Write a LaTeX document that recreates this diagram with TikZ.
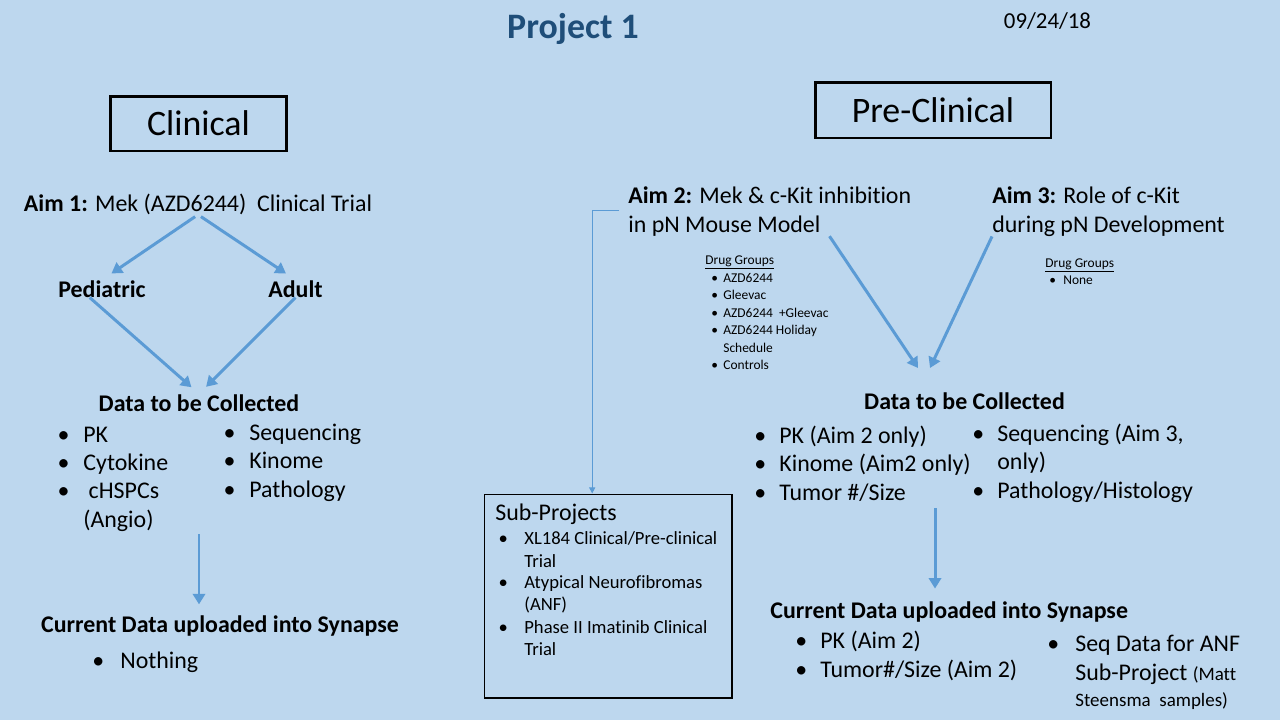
\documentclass[tikz,border=0pt]{standalone}
\usepackage{fontspec}
\setmainfont[Ligatures={NoCommon,NoContextual}]{Carlito}
\usetikzlibrary{arrows.meta}
\definecolor{slidebg}{RGB}{189,215,238}
\definecolor{arrblue}{RGB}{91,155,213}
\definecolor{ttlblue}{RGB}{31,78,121}
\begin{document}
\begin{tikzpicture}[x=0.02cm, y=-0.02cm, font=\fontsize{13.6}{16}\selectfont,
          hd/.style={anchor=base, inner sep=0pt, font=\fontsize{13.6}{16}\selectfont\bfseries},
          txt/.style={anchor=base west, inner sep=0pt},
          itm/.style={anchor=base west, inner sep=0pt, execute at begin node={\llap{\makebox[#1][l]{\textbullet}}}},
          itm/.default=14.7pt,
          small/.style={font=\fontsize{7.65}{9}\selectfont},
          subtxt/.style={font=\fontsize{10.6}{12.5}\selectfont},
          clbox/.style={draw, line width=1.7pt, inner sep=0pt, font=\fontsize{20.4}{24}\selectfont},
          blkarr/.style={draw=arrblue, line width=1.7pt, -{Triangle[length=6pt, width=7pt]}},
          thinarr/.style={draw=arrblue, line width=0.6pt, -{Triangle[length=3.5pt, width=3.5pt]}}]
        \fill[slidebg] (0,0) rectangle (1280,720);
        % header
        \node[anchor=base, inner sep=0pt, font=\fontsize{20.4}{24}\selectfont\bfseries, text=ttlblue] (title) at (573,38) {Project 1};
        \node[anchor=base, inner sep=0pt, font=\fontsize{13}{15}\selectfont] (date) at (1047.5,29) {09/24/18};
        \node[clbox, minimum width=3.54cm, minimum height=1.1cm] (clin) at (198.5,123.5) {Clinical};
        \node[clbox, minimum width=4.72cm, minimum height=1.12cm] (preclin) at (933,110) {Pre-Clinical};
        % clinical side
        \node[anchor=base, inner sep=0pt] (aim1) at (198,211) {\textbf{Aim 1:} Mek (AZD6244)\ \ Clinical Trial};
        \node[hd] (ped) at (102,297) {Pediatric};
        \node[hd] (adult) at (295.5,297) {Adult};
        \node[hd] (dcl) at (199,411) {Data to be Collected};
        \node[itm] (pk) at (83,442) {PK};
        \node[itm] (cyto) at (83,470) {Cytokine};
        \node[itm] (chsp) at (83,498) {\ cHSPCs};
        \node[txt] (angio) at (83,527) {(Angio)};
        \node[itm] (seq) at (249,440) {Sequencing};
        \node[itm] (kin) at (249,468) {Kinome};
        \node[itm] (path) at (249,497) {Pathology};
        \node[hd] (cdl) at (220,632) {Current Data uploaded into Synapse};
        \node[itm=15.9pt] (noth) at (120,668) {Nothing};
        \draw[blkarr, shorten <=2pt, shorten >=6.5pt] (aim1.south) -- (ped.north);
        \draw[blkarr, shorten <=2pt, shorten >=6.5pt] (aim1.south) -- (adult.north);
        \draw[blkarr, shorten >=5.7pt] ([xshift=-7pt]ped.south) -- (dcl.north);
        \draw[blkarr, shorten >=5.7pt] (adult.south) -- (dcl.north);
        \draw[blkarr, shorten <=1.5pt, shorten >=6pt] (angio.south -| dcl) -- (cdl.north -| dcl);
        % pre-clinical side
        \node[txt] (aim2a) at (628,203) {\textbf{Aim 2:} Mek \& c-Kit inhibition};
        \node[txt] (aim2b) at (628,232) {in pN Mouse Model};
        \node[txt] (aim3a) at (992,203) {\textbf{Aim 3:} Role of c-Kit};
        \node[txt] (aim3b) at (992,232) {during pN Development};
        \node[txt, small] (dg2) at (705,264) {\underline{Drug Groups}};
        \node[itm=6.8pt, small] (az) at (723,282) {AZD6244};
        \node[itm=6.8pt, small] (glee) at (723,299.5) {Gleevac};
        \node[itm=6.8pt, small] (azgl) at (723,317) {AZD6244\ \ +Gleevac};
        \node[itm=6.8pt, small] (azho) at (723,334.5) {AZD6244 Holiday};
        \node[txt, small] (sched) at (723,352) {Schedule};
        \node[itm=6.8pt, small] (ctrl) at (723,369.5) {Controls};
        \node[txt, small] (dg3) at (1045,267) {\underline{Drug Groups}};
        \node[itm=7.9pt, small] (none) at (1063,284) {None};
        \coordinate (mt2) at (918,368);
        \coordinate (mt3) at (930,368);
        \draw[blkarr] ([xshift=5pt]aim2b.south east) -- (mt2);
        \draw[blkarr] (aim3b.south west) -- (mt3);
        \node[hd] (dcr) at (964.5,409) {Data to be Collected};
        \node[itm=14.2pt] (pkr) at (779,443) {PK (Aim 2 only)};
        \node[itm=14.2pt] (kinr) at (779,471) {Kinome (Aim2 only)};
        \node[itm=14.2pt] (tum) at (779,500) {Tumor \#/Size};
        \node[itm=14.2pt] (seqr) at (997,441) {Sequencing (Aim 3,};
        \node[txt] (only) at (997,469) {only)};
        \node[itm=14.2pt] (histo) at (997,498) {Pathology/Histology};
        \node[hd, anchor=base west] (cdr) at (770,618) {Current Data uploaded into Synapse};
        \node[itm=14.2pt] (pkup) at (820,648) {PK (Aim 2)};
        \node[itm=14.2pt] (tumup) at (820,677) {Tumor\#/Size (Aim 2)};
        \node[itm=15.9pt] (seqd) at (1075,651) {Seq Data for ANF};
        \node[txt] (subp) at (1075,680) {Sub-Project {\fontsize{10.8}{13}\selectfont (Matt}};
        \node[txt, font=\fontsize{10.8}{13}\selectfont] (steen) at (1075,706) {Steensma\ \ samples)};
        \coordinate (dn2) at (935,508);
        \draw[blkarr, shorten >=7pt] (dn2) -- (dn2 |- cdr.north);
        % sub-projects
        \node[draw, line width=0.6pt, minimum width=4.96cm, minimum height=4.08cm] (subbox) at (608,596) {};
        \node[txt] (sptitle) at (495,520) {Sub-Projects};
        \node[itm, subtxt] (xl) at (524,544) {XL184 Clinical/Pre-clinical};
        \node[txt, subtxt] (xltrial) at (524,567) {Trial};
        \node[itm, subtxt] (atyp) at (524,588) {Atypical Neurofibromas};
        \node[txt, subtxt] (anf) at (524,610) {(ANF)};
        \node[itm, subtxt] (phase) at (524,633) {Phase II Imatinib Clinical};
        \node[txt, subtxt] (phtrial) at (524,655) {Trial};
        \draw[thinarr] ([shift={(-9,7)}]aim2a.south west) -| ([xshift=-9pt]subbox.north);
      \end{tikzpicture}
\end{document}
